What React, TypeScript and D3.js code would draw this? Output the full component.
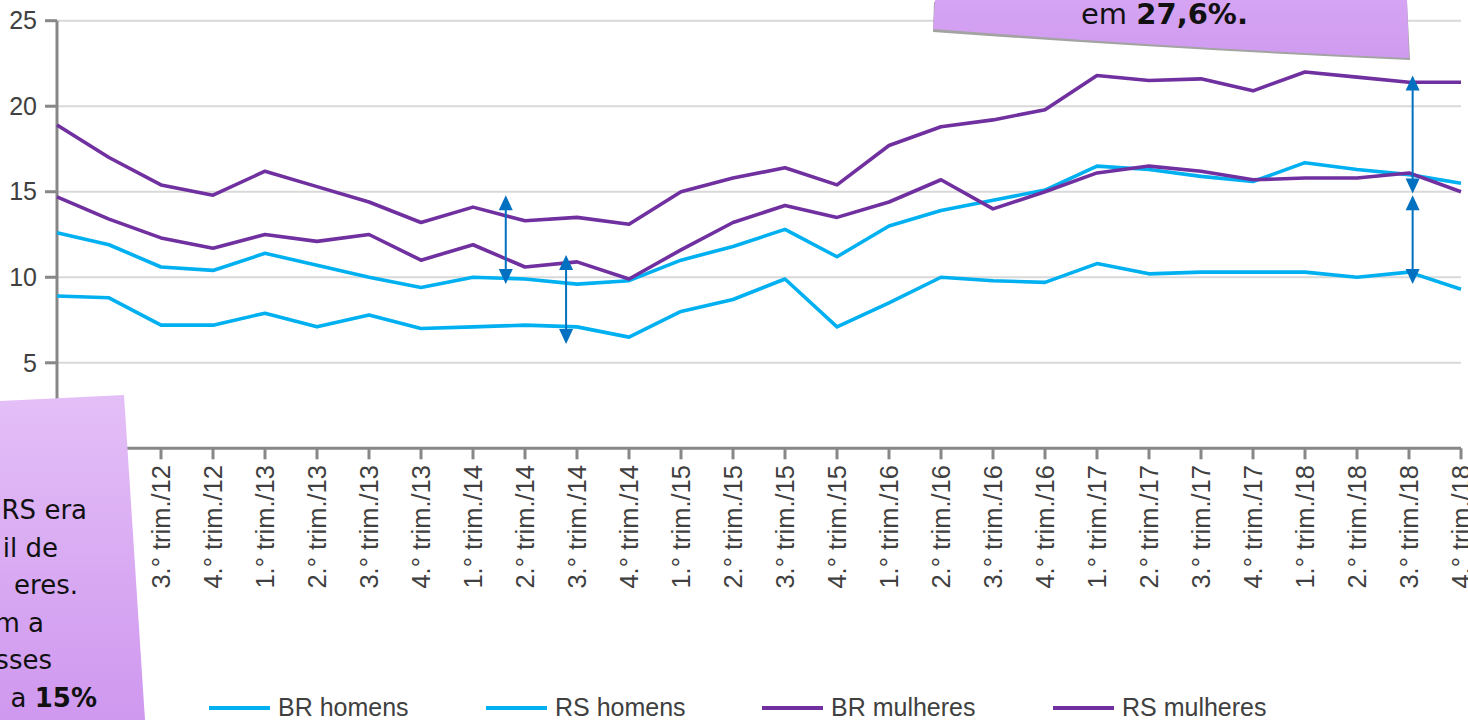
import * as d3 from 'd3';

const quarters = ['1.°', '2.°', '3.°', '4.°'];
const years = ['12', '13', '14', '15', '16', '17', '18'];
const categories = years.flatMap((y) => quarters.map((q) => `${q} trim./${y}`));

const brHomens = [12.6, 11.9, 10.6, 10.4, 11.4, 10.7, 10.0, 9.4, 10.0, 9.9, 9.6, 9.8, 11.0, 11.8, 12.8, 11.2, 13.0, 13.9, 14.5, 15.1, 16.5, 16.3, 15.9, 15.6, 16.7, 16.3, 16.0, 15.5];
const rsHomens = [8.9, 8.8, 7.2, 7.2, 7.9, 7.1, 7.8, 7.0, 7.1, 7.2, 7.1, 6.5, 8.0, 8.7, 9.9, 7.1, 8.5, 10.0, 9.8, 9.7, 10.8, 10.2, 10.3, 10.3, 10.3, 10.0, 10.3, 9.3];
const brMulheres = [18.9, 17.0, 15.4, 14.8, 16.2, 15.3, 14.4, 13.2, 14.1, 13.3, 13.5, 13.1, 15.0, 15.8, 16.4, 15.4, 17.7, 18.8, 19.2, 19.8, 21.8, 21.5, 21.6, 20.9, 22.0, 21.7, 21.4, 21.4];
const rsMulheres = [14.7, 13.4, 12.3, 11.7, 12.5, 12.1, 12.5, 11.0, 11.9, 10.6, 10.9, 9.9, 11.6, 13.2, 14.2, 13.5, 14.4, 15.7, 14.0, 15.0, 16.1, 16.5, 16.2, 15.7, 15.8, 15.8, 16.1, 15.0];

const seriesNames = ['BR homens', 'RS homens', 'BR mulheres', 'RS mulheres'];
const seriesValues = [brHomens, rsHomens, brMulheres, rsMulheres];
const seriesColors = ['#00b0f0', '#00b0f0', '#7030a0', '#7030a0'];

const yTicks = [5, 10, 15, 20, 25];

// double arrows: position in category steps, values at both tips
const arrowPos = [8.63, 9.79, 26.07, 26.07];
const arrowTop = [14.8, 11.3, 21.8, 14.8];
const arrowBottom = [9.6, 6.1, 14.9, 9.6];

const noteTop = ['em ', '27,6%.'];
const noteLeft = ['RS era', 'il de', 'eres.', 'm a', 'sses', 'a '];
const noteLeftBold = '15%';

const W = 1468;
const H = 720;

export default function App() {
  const x = d3.scalePoint<string>().domain(categories).range([57, 1461]);
  const y = d3.scaleLinear().domain([0, 25]).range([448.3, 20.7]);
  const line = d3.line<number>()
    .x((_, i) => x(categories[i]) as number)
    .y((d) => y(d));

  const x0 = x(categories[0]) as number;
  const step = x.step();
  const axisColor = '#878787';
  const textColor = '#404040';
  const font = '"Liberation Sans", Arial, sans-serif';
  const noteFont = '"DejaVu Sans", sans-serif';
  const arrowColor = '#0070c0';

  const legendX = [209, 486, 762, 1053];

  return (
    <svg width={W} height={H} style={{ position: 'absolute', left: 0, top: 0, background: '#fff' }}>
      <defs>
        <linearGradient id="noteLeftGrad" x1="0" y1="0" x2="0" y2="1">
          <stop offset="0" stopColor="#e4bff7" />
          <stop offset="1" stopColor="#cf98ef" />
        </linearGradient>
        <linearGradient id="noteTopGrad" x1="0" y1="0" x2="0" y2="1">
          <stop offset="0" stopColor="#d6a4f3" />
          <stop offset="1" stopColor="#cf9bf0" />
        </linearGradient>
      </defs>

      {/* gridlines */}
      {yTicks.map((t) => (
        <line key={t} x1={x0} x2={1461} y1={y(t)} y2={y(t)} stroke="#d9d9d9" strokeWidth={2} />
      ))}

      {/* y axis */}
      <line x1={x0} x2={x0} y1={y(25)} y2={y(0)} stroke={axisColor} strokeWidth={3} />
      {yTicks.map((t) => (
        <g key={t}>
          <line x1={45} x2={x0} y1={y(t)} y2={y(t)} stroke={axisColor} strokeWidth={3} />
          <text x={37} y={y(t)} dy="0.35em" textAnchor="end" fontFamily={font} fontSize={25} fill={textColor}>
            {t}
          </text>
        </g>
      ))}

      {/* x axis */}
      <line x1={x0 - 1.5} x2={1461} y1={y(0)} y2={y(0)} stroke={axisColor} strokeWidth={3} />
      {categories.map((c) => {
        const cx = x(c) as number;
        return (
          <g key={c}>
            <line x1={cx} x2={cx} y1={y(0)} y2={y(0) + 11} stroke={axisColor} strokeWidth={3} />
            <text
              transform={`translate(${cx},465) rotate(-90)`}
              dy="0.35em"
              textAnchor="end"
              fontFamily={font}
              fontSize={25.5}
              fill={textColor}
            >
              {c}
            </text>
          </g>
        );
      })}

      {/* series */}
      {seriesValues.map((vals, i) => (
        <path key={seriesNames[i]} d={line(vals) || ''} fill="none" stroke={seriesColors[i]} strokeWidth={3.6} strokeLinejoin="round" />
      ))}

      {/* arrows */}
      {arrowPos.map((p, i) => {
        const ax = x0 + p * step;
        const yt = y(arrowTop[i]);
        const yb = y(arrowBottom[i]);
        const hw = 7;
        const hl = 15;
        return (
          <g key={i} fill={arrowColor}>
            <line x1={ax} x2={ax} y1={yt + hl - 2} y2={yb - hl + 2} stroke={arrowColor} strokeWidth={2} />
            <path d={`M${ax},${yt} L${ax + hw},${yt + hl} L${ax - hw},${yt + hl} Z`} />
            <path d={`M${ax},${yb} L${ax + hw},${yb - hl} L${ax - hw},${yb - hl} Z`} />
          </g>
        );
      })}

      {/* top note */}
      <path d="M934,0 L1407,0 L1410,58 Q1180,48 933,30 Z" fill="#a3a3a3" transform="translate(0,2)" />
      <path d="M935,0 L1407,0 L1409,58 Q1180,48 933,29 Z" fill="url(#noteTopGrad)" />
      <text x={1081} y={24} fontFamily={noteFont} fontSize={29} fill="#111">
        <tspan>{noteTop[0]}</tspan>
        <tspan fontWeight="bold">{noteTop[1]}</tspan>
      </text>

      {/* left note */}
      <path d="M0,401 L124,395 L145,720 L0,720 Z" fill="url(#noteLeftGrad)" />
      {noteLeft.map((t, i) => {
        const ends = [87, 58, 78, 44, 52, 97];
        const last = i === noteLeft.length - 1;
        return (
          <text key={i} x={ends[i]} y={519 + i * 37.5} textAnchor="end" fontFamily={noteFont} fontSize={26} fill="#111">
            {t}
            {last ? <tspan fontWeight="bold">{noteLeftBold}</tspan> : null}
          </text>
        );
      })}

      {/* legend */}
      {seriesNames.map((n, i) => (
        <g key={n}>
          <line x1={legendX[i]} x2={legendX[i] + 61} y1={708} y2={708} stroke={seriesColors[i]} strokeWidth={4} />
          <text x={legendX[i] + 69} y={716} fontFamily={font} fontSize={25} fill={textColor}>
            {n}
          </text>
        </g>
      ))}
    </svg>
  );
}
